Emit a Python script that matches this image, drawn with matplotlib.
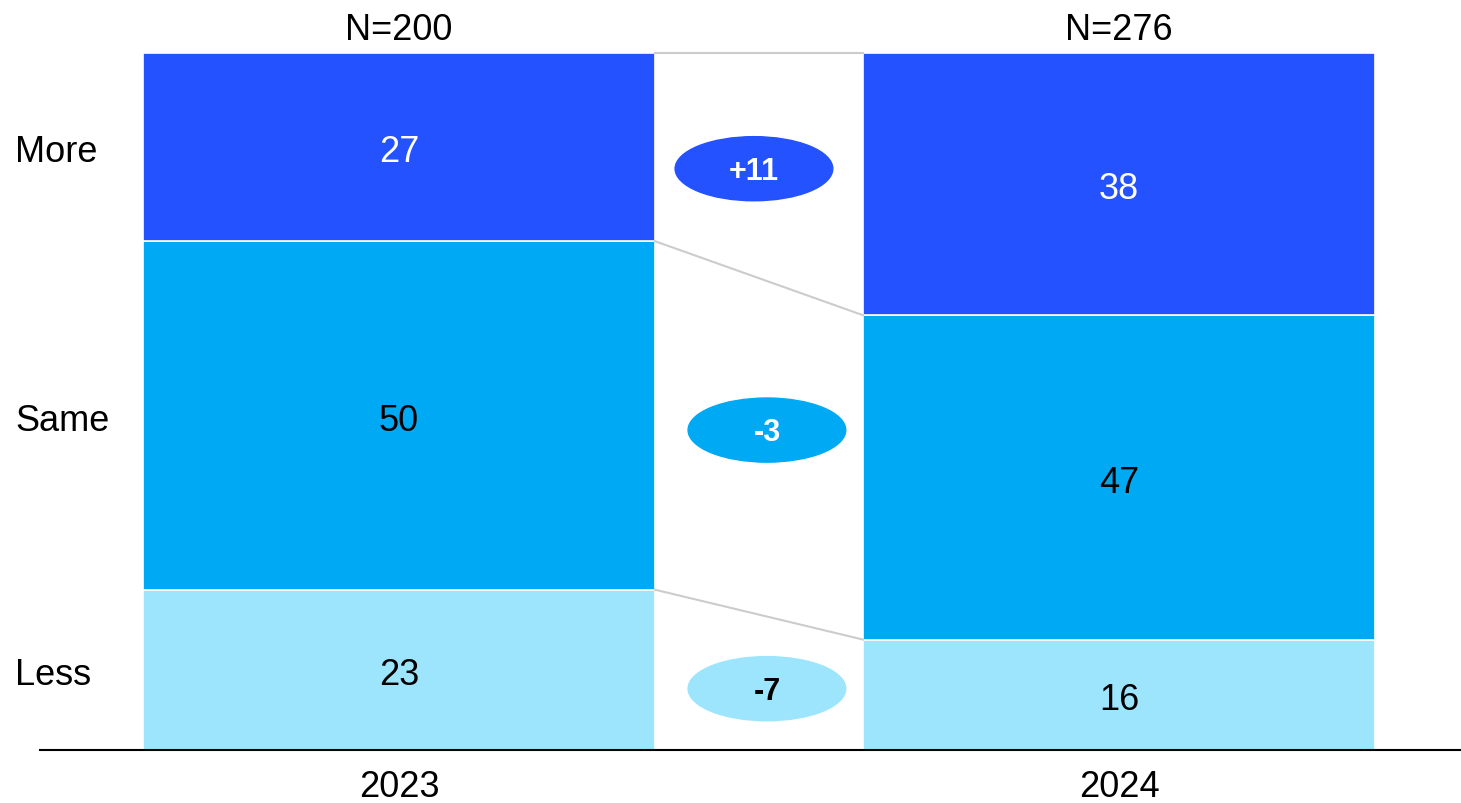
import matplotlib
matplotlib.use("Agg")
import matplotlib.pyplot as plt
import matplotlib.transforms as mtransforms
from matplotlib.patches import Ellipse
import numpy as np

plt.rcParams["font.family"] = ["Liberation Sans", "DejaVu Sans"]

years = ["2023", "2024"]
sample_sizes = [200, 276]
categories = ["More", "Same", "Less"]
more = [27, 38]
same = [50, 47]
less = [23, 16]

colors = {"More": "#2452FF", "Same": "#00A9F4", "Less": "#9CE5FD"}
text_colors = {"More": "white", "Same": "black", "Less": "black"}
badge_text = {"More": "white", "Same": "white", "Less": "black"}

fig = plt.figure(figsize=(14.61, 8.04), dpi=100)
ax = fig.add_axes([40 / 1461, 53 / 804, 1421 / 1461, 697 / 804])

x = np.arange(len(years))
width = 0.711
series = {"More": np.array(more), "Same": np.array(same), "Less": np.array(less)}
# bars are drawn as shares of the (rounded) total of each year
totals = sum(series.values()).astype(float)
shares = {k: 100 * v / totals for k, v in series.items()}

# stack from the bottom: Less, Same, More
bottom = np.zeros(len(years))
bounds = {}
for cat in ["Less", "Same", "More"]:
    vals = shares[cat]
    ax.bar(x, vals, width, bottom=bottom, color=colors[cat],
           edgecolor="white", linewidth=1.2)
    for xi, v, s, b in zip(x, series[cat], vals, bottom):
        ax.annotate(f"{v}", (xi, b + s / 2), xytext=(0, -3.5),
                    textcoords="offset points", ha="center", va="center",
                    fontsize=26, color=text_colors[cat])
    bounds[cat] = (bottom.copy(), bottom + vals)
    bottom = bottom + vals

# connector lines between bars at the segment tops
for cat in ["Less", "Same", "More"]:
    top = bounds[cat][1]
    ax.plot([x[0] + width / 2, x[1] - width / 2], [top[0], top[1]],
            color="#cccccc", lw=1.5, zorder=1, clip_on=False)

# change badges
badge_x = [0.493, 0.511, 0.511]
badge_y = [83.4, 45.9, 8.8]
for cat, bx, by in zip(categories, badge_x, badge_y):
    d = series[cat][1] - series[cat][0]
    ax.add_patch(Ellipse((bx, by), 0.219, 9.2, color=colors[cat], zorder=3))
    ax.annotate(f"{d:+d}", (bx, by), xytext=(0, -1.5),
                textcoords="offset points", ha="center", va="center",
                fontsize=22, fontweight="bold", color=badge_text[cat],
                zorder=4)

# N labels above bars
for xi, n in zip(x, sample_sizes):
    ax.text(xi, 103.4, f"N={n}", ha="center", va="center", fontsize=26,
            clip_on=False)

# row labels on the left, aligned with the 2023 segments
trans = mtransforms.blended_transform_factory(fig.transFigure, ax.transData)
for cat in categories:
    b0, t0 = bounds[cat][0][0], bounds[cat][1][0]
    t = fig.text(15 / 1461, (b0 + t0) / 2, cat, transform=trans, ha="left",
                 va="center", fontsize=26)
    t.set_transform(trans + mtransforms.ScaledTranslation(0, -3.5 / 72,
                                                          fig.dpi_scale_trans))

ax.set_xlim(-0.4986, 1.475)
ax.set_ylim(0, 100)
ax.set_xticks(x)
ax.set_xticklabels(years, fontsize=26)
ax.tick_params(axis="x", length=0, pad=14)
ax.set_yticks([])
for s in ["top", "right", "left"]:
    ax.spines[s].set_visible(False)
ax.spines["bottom"].set_linewidth(1.5)
ax.spines["bottom"].set_color("black")

fig.savefig("out.png", dpi=100)
